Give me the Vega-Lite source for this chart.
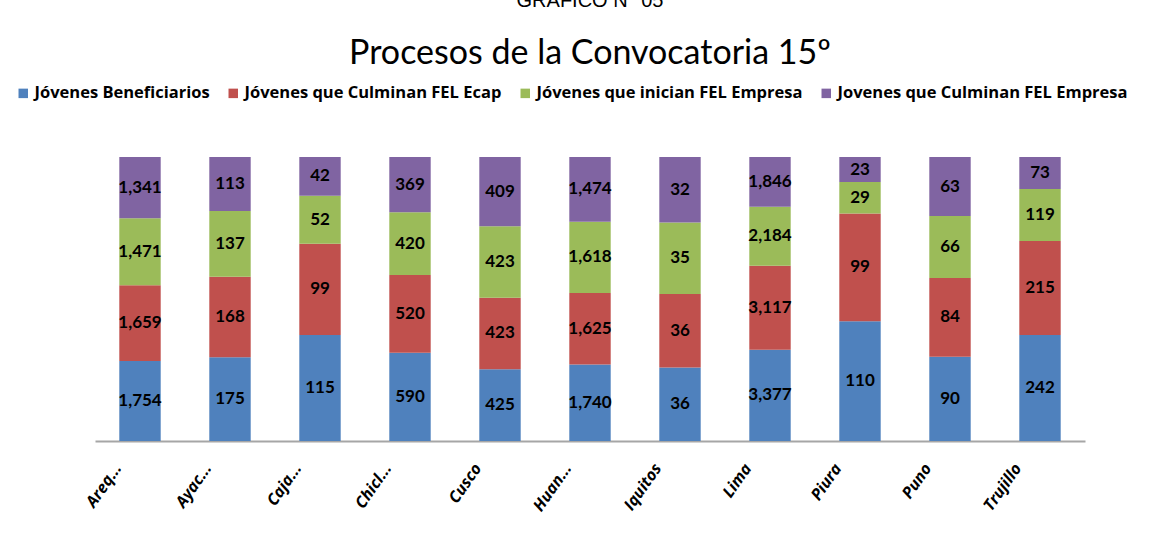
{
  "$schema": "https://vega.github.io/schema/vega-lite/v6.json",
  "autosize": {"type": "none"},
  "padding": {"left": 95, "top": 157, "right": 71, "bottom": 104},
  "width": 990,
  "height": 284,
  "background": "white",
  "title": {
    "text": "GRAFICO N° 05",
    "subtitle": "Procesos de la Convocatoria 15º",
    "anchor": "middle",
    "frame": "group",
    "font": "Liberation Sans",
    "fontSize": 20,
    "fontWeight": "normal",
    "color": "black",
    "subtitleFont": "Lato",
    "subtitleFontSize": 34,
    "subtitleColor": "black",
    "subtitlePadding": 26,
    "offset": 14
  },
  "data": {
    "values": [
      {"ciudad": "Areq...", "serie": "Jóvenes Beneficiarios", "k": 1, "valor": 1754},
      {"ciudad": "Areq...", "serie": "Jóvenes que Culminan FEL Ecap", "k": 2, "valor": 1659},
      {"ciudad": "Areq...", "serie": "Jóvenes que inician FEL Empresa", "k": 3, "valor": 1471},
      {"ciudad": "Areq...", "serie": "Jovenes que Culminan FEL Empresa", "k": 4, "valor": 1341},
      {"ciudad": "Ayac...", "serie": "Jóvenes Beneficiarios", "k": 1, "valor": 175},
      {"ciudad": "Ayac...", "serie": "Jóvenes que Culminan FEL Ecap", "k": 2, "valor": 168},
      {"ciudad": "Ayac...", "serie": "Jóvenes que inician FEL Empresa", "k": 3, "valor": 137},
      {"ciudad": "Ayac...", "serie": "Jovenes que Culminan FEL Empresa", "k": 4, "valor": 113},
      {"ciudad": "Caja...", "serie": "Jóvenes Beneficiarios", "k": 1, "valor": 115},
      {"ciudad": "Caja...", "serie": "Jóvenes que Culminan FEL Ecap", "k": 2, "valor": 99},
      {"ciudad": "Caja...", "serie": "Jóvenes que inician FEL Empresa", "k": 3, "valor": 52},
      {"ciudad": "Caja...", "serie": "Jovenes que Culminan FEL Empresa", "k": 4, "valor": 42},
      {"ciudad": "Chicl...", "serie": "Jóvenes Beneficiarios", "k": 1, "valor": 590},
      {"ciudad": "Chicl...", "serie": "Jóvenes que Culminan FEL Ecap", "k": 2, "valor": 520},
      {"ciudad": "Chicl...", "serie": "Jóvenes que inician FEL Empresa", "k": 3, "valor": 420},
      {"ciudad": "Chicl...", "serie": "Jovenes que Culminan FEL Empresa", "k": 4, "valor": 369},
      {"ciudad": "Cusco", "serie": "Jóvenes Beneficiarios", "k": 1, "valor": 425},
      {"ciudad": "Cusco", "serie": "Jóvenes que Culminan FEL Ecap", "k": 2, "valor": 423},
      {"ciudad": "Cusco", "serie": "Jóvenes que inician FEL Empresa", "k": 3, "valor": 423},
      {"ciudad": "Cusco", "serie": "Jovenes que Culminan FEL Empresa", "k": 4, "valor": 409},
      {"ciudad": "Huan...", "serie": "Jóvenes Beneficiarios", "k": 1, "valor": 1740},
      {"ciudad": "Huan...", "serie": "Jóvenes que Culminan FEL Ecap", "k": 2, "valor": 1625},
      {"ciudad": "Huan...", "serie": "Jóvenes que inician FEL Empresa", "k": 3, "valor": 1618},
      {"ciudad": "Huan...", "serie": "Jovenes que Culminan FEL Empresa", "k": 4, "valor": 1474},
      {"ciudad": "Iquitos", "serie": "Jóvenes Beneficiarios", "k": 1, "valor": 36},
      {"ciudad": "Iquitos", "serie": "Jóvenes que Culminan FEL Ecap", "k": 2, "valor": 36},
      {"ciudad": "Iquitos", "serie": "Jóvenes que inician FEL Empresa", "k": 3, "valor": 35},
      {"ciudad": "Iquitos", "serie": "Jovenes que Culminan FEL Empresa", "k": 4, "valor": 32},
      {"ciudad": "Lima", "serie": "Jóvenes Beneficiarios", "k": 1, "valor": 3377},
      {"ciudad": "Lima", "serie": "Jóvenes que Culminan FEL Ecap", "k": 2, "valor": 3117},
      {"ciudad": "Lima", "serie": "Jóvenes que inician FEL Empresa", "k": 3, "valor": 2184},
      {"ciudad": "Lima", "serie": "Jovenes que Culminan FEL Empresa", "k": 4, "valor": 1846},
      {"ciudad": "Piura", "serie": "Jóvenes Beneficiarios", "k": 1, "valor": 110},
      {"ciudad": "Piura", "serie": "Jóvenes que Culminan FEL Ecap", "k": 2, "valor": 99},
      {"ciudad": "Piura", "serie": "Jóvenes que inician FEL Empresa", "k": 3, "valor": 29},
      {"ciudad": "Piura", "serie": "Jovenes que Culminan FEL Empresa", "k": 4, "valor": 23},
      {"ciudad": "Puno", "serie": "Jóvenes Beneficiarios", "k": 1, "valor": 90},
      {"ciudad": "Puno", "serie": "Jóvenes que Culminan FEL Ecap", "k": 2, "valor": 84},
      {"ciudad": "Puno", "serie": "Jóvenes que inician FEL Empresa", "k": 3, "valor": 66},
      {"ciudad": "Puno", "serie": "Jovenes que Culminan FEL Empresa", "k": 4, "valor": 63},
      {"ciudad": "Trujillo", "serie": "Jóvenes Beneficiarios", "k": 1, "valor": 242},
      {"ciudad": "Trujillo", "serie": "Jóvenes que Culminan FEL Ecap", "k": 2, "valor": 215},
      {"ciudad": "Trujillo", "serie": "Jóvenes que inician FEL Empresa", "k": 3, "valor": 119},
      {"ciudad": "Trujillo", "serie": "Jovenes que Culminan FEL Empresa", "k": 4, "valor": 73}
    ]
  },
  "transform": [
    {"stack": "valor", "groupby": ["ciudad"], "sort": [{"field": "k"}], "offset": "normalize", "as": ["y0", "y1"]},
    {"calculate": "(datum.y0 + datum.y1) / 2", "as": "ymid"}
  ],
  "encoding": {
    "x": {
      "field": "ciudad",
      "type": "nominal",
      "sort": null,
      "scale": {"paddingInner": 0.54, "paddingOuter": 0.27},
      "axis": {
        "title": null,
        "labelAngle": -55,
        "labelAlign": "right",
        "labelBaseline": "middle",
        "labelFont": "Open Sans",
        "labelFontStyle": "italic",
        "labelFontWeight": "bold",
        "labelFontSize": 16,
        "labelColor": "black",
        "labelPadding": 24,
        "labelOffset": -22,
        "ticks": false,
        "domain": true,
        "domainColor": "#A6A6A6",
        "domainWidth": 2
      }
    }
  },
  "layer": [
    {
      "mark": {"type": "bar", "stroke": null},
      "encoding": {
        "y": {"field": "y0", "type": "quantitative", "scale": {"domain": [0, 1]}, "axis": null},
        "y2": {"field": "y1"},
        "color": {
          "field": "serie",
          "type": "nominal",
          "scale": {
            "domain": ["Jóvenes Beneficiarios", "Jóvenes que Culminan FEL Ecap", "Jóvenes que inician FEL Empresa", "Jovenes que Culminan FEL Empresa"],
            "range": ["#4F81BD", "#C0504D", "#9BBB59", "#8064A2"]
          },
          "legend": {
            "title": null,
            "orient": "none",
            "direction": "horizontal",
            "columns": 4,
            "legendX": -80,
            "legendY": -72,
            "symbolType": "square",
            "symbolSize": 90,
            "symbolStrokeWidth": 0,
            "symbolOpacity": 1,
            "labelFont": "Open Sans",
            "labelFontWeight": "bold",
            "labelFontSize": 16.5,
            "labelColor": "black",
            "labelLimit": 400,
            "columnPadding": 15,
            "labelOffset": 3
          }
        }
      }
    },
    {
      "mark": {"type": "text", "font": "Lato", "fontWeight": "bold", "fontSize": 17, "color": "black"},
      "encoding": {
        "y": {"field": "ymid", "type": "quantitative"},
        "text": {"field": "valor", "type": "quantitative", "format": ","}
      }
    }
  ],
  "config": {"view": {"stroke": null}}
}
